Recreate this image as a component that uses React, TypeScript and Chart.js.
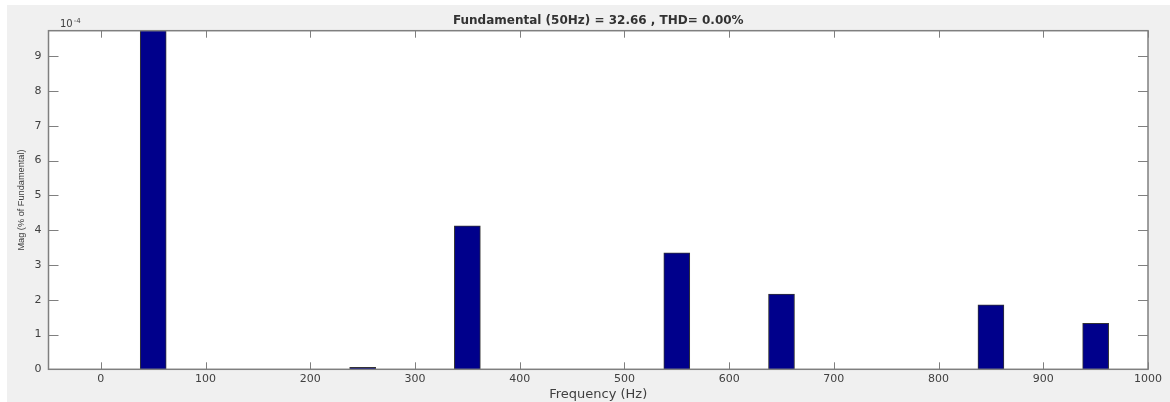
import React, { useEffect, useRef } from 'react';
import { Chart, registerables } from 'chart.js';

Chart.register(...registerables);

// ---- data ----
const FREQS = [50, 250, 350, 550, 650, 850, 950];
const MAGS = [100, 0.06, 4.12, 3.35, 2.16, 1.85, 1.32];
const X_TICKS = [0, 100, 200, 300, 400, 500, 600, 700, 800, 900, 1000];
const Y_TICKS = [0, 1, 2, 3, 4, 5, 6, 7, 8, 9];
const TITLE = 'Fundamental (50Hz) = 32.66 , THD= 0.00%';
const X_LABEL = 'Frequency (Hz)';
const Y_LABEL = 'Mag (% of Fundamental)';
const EXP_BASE = '10';
const EXP_POWER = '-4';

const TEXT = '#404040';
const AXIS = '#7f7f7f';

const matlabAxes = {
  id: 'matlabAxes',
  beforeDraw(chart: any) {
    const { ctx, chartArea: a } = chart;
    ctx.save();
    ctx.fillStyle = '#ffffff';
    ctx.fillRect(a.left, a.top, a.right - a.left, a.bottom - a.top);
    ctx.restore();
  },
  afterDatasetsDraw(chart: any) {
    const { ctx, chartArea: a, scales } = chart;
    ctx.save();
    ctx.strokeStyle = AXIS;
    ctx.lineWidth = 1;
    ctx.beginPath();
    for (const v of X_TICKS) {
      const px = Math.round(scales.x.getPixelForValue(v)) + 0.5;
      ctx.moveTo(px, a.bottom);
      ctx.lineTo(px, a.bottom - 7);
      ctx.moveTo(px, a.top);
      ctx.lineTo(px, a.top + 7);
    }
    for (const v of Y_TICKS) {
      const py = Math.round(scales.y.getPixelForValue(v)) + 0.5;
      ctx.moveTo(a.left, py);
      ctx.lineTo(a.left + 10, py);
      ctx.moveTo(a.right, py);
      ctx.lineTo(a.right - 10, py);
    }
    ctx.stroke();
    ctx.lineWidth = 1.5;
    ctx.strokeRect(a.left, a.top, a.right - a.left, a.bottom - a.top);

    // exponent label
    ctx.fillStyle = TEXT;
    ctx.textBaseline = 'middle';
    ctx.textAlign = 'left';
    ctx.font = '10px "DejaVu Sans"';
    const x0 = a.left + 11.5;
    ctx.fillText(EXP_BASE, x0, a.top - 6.2);
    const w = ctx.measureText(EXP_BASE).width;
    ctx.font = '7px "DejaVu Sans"';
    ctx.fillText(EXP_POWER, x0 + w + 1, a.top - 10);
    ctx.restore();
  },
};

export default function App() {
  const ref = useRef<HTMLCanvasElement | null>(null);

  useEffect(() => {
    if (!ref.current) return;
    const chart = new Chart(ref.current, {
      type: 'bar',
      data: {
        datasets: [
          {
            data: FREQS.map((x, i) => ({ x, y: MAGS[i] })),
            backgroundColor: '#00008b',
            borderColor: '#333333',
            borderWidth: 1,
            barThickness: 26,
          },
        ],
      },
      options: {
        responsive: false,
        animation: false,
        layout: { padding: { left: 0, right: 22, top: 0, bottom: 0 } },
        plugins: {
          legend: { display: false },
          tooltip: { enabled: false },
          title: {
            display: true,
            text: TITLE,
            fullSize: false,
            color: '#333333',
            font: { family: 'DejaVu Sans', size: 12, weight: 'bold' },
            padding: { top: 8.8, bottom: 2.5 },
          },
        },
        scales: {
          x: {
            type: 'linear',
            min: -50,
            max: 1000,
            offset: false,
            afterBuildTicks: (s: any) => {
              s.ticks = X_TICKS.map((value) => ({ value }));
            },
            afterFit: (s: any) => {
              s.height = 32.7;
            },
            grid: { display: false, drawTicks: false, offset: false },
            border: { display: false },
            ticks: {
              padding: 3,
              color: TEXT,
              maxRotation: 0,
              autoSkip: false,
              font: { family: 'DejaVu Sans', size: 11 },
              callback: (v: any) => String(v),
            },
            title: {
              display: true,
              text: X_LABEL,
              color: TEXT,
              font: { family: 'DejaVu Sans', size: 13 },
              padding: 0,
            },
          },
          y: {
            type: 'linear',
            min: 0,
            max: 9.73,
            afterBuildTicks: (s: any) => {
              s.ticks = Y_TICKS.map((value) => ({ value }));
            },
            afterFit: (s: any) => {
              s.width = 41.5;
            },
            grid: { display: false, drawTicks: false },
            border: { display: false },
            ticks: {
              padding: 7,
              color: TEXT,
              font: { family: 'DejaVu Sans', size: 11 },
              callback: (v: any) => String(v),
            },
            title: {
              display: true,
              text: Y_LABEL,
              color: TEXT,
              font: { family: 'Liberation Sans', size: 9.2 },
              padding: { top: 8.5, bottom: 0 },
            },
          },
        },
      },
      plugins: [matlabAxes],
    } as any);
    return () => chart.destroy();
  }, []);

  return (
    <div
      style={{
        position: 'absolute',
        left: 7,
        top: 5,
        width: 1163,
        height: 397,
        background: '#f0f0f0',
      }}
    >
      <canvas ref={ref} width={1163} height={397} style={{ display: 'block' }} />
    </div>
  );
}
